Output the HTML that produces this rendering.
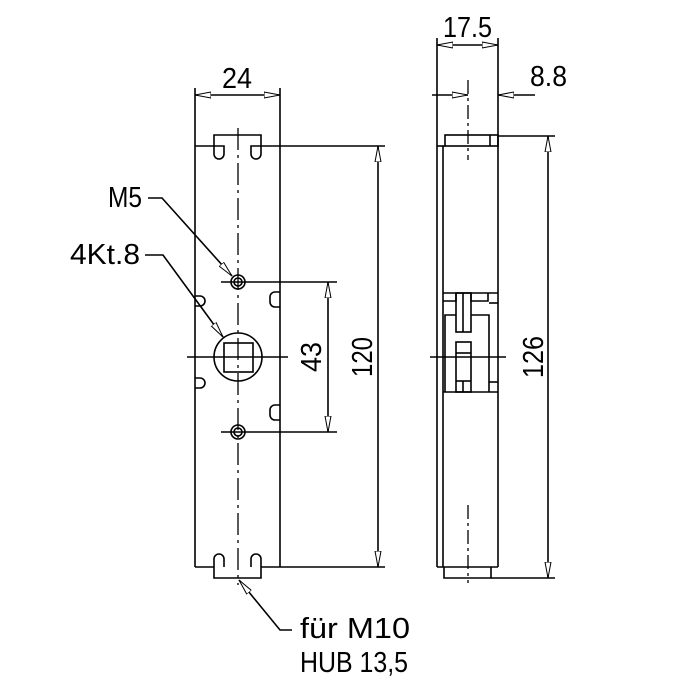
<!DOCTYPE html>
<html><head><style>html,body{margin:0;padding:0;background:#fff}svg{display:block}</style></head><body>
<svg width="700" height="700" viewBox="0 0 700 700" xmlns="http://www.w3.org/2000/svg">
<defs>
<marker id="a" viewBox="0 0 16 8" refX="16" refY="4" markerWidth="16" markerHeight="8" markerUnits="userSpaceOnUse" orient="auto-start-reverse"><path d="M0,1 L16,4 L0,7 Z" fill="#fff" stroke="#000" stroke-width="1"/></marker>
</defs>
<g fill="none" stroke="#000" stroke-width="1.6">
<line x1="195" y1="88" x2="195" y2="567"/>
<line x1="280" y1="88" x2="280" y2="567"/>
<line x1="195" y1="146" x2="214" y2="146"/>
<line x1="261" y1="146" x2="385" y2="146"/>
<line x1="195" y1="567" x2="214" y2="567"/>
<line x1="261" y1="567" x2="385" y2="567"/>
<path d="M214,146 L214,135 L261,135 L261,146"/>
<path d="M214,146 L214,154 A5,5 0 0 0 224,154 L224,146 Z"/>
<path d="M251,146 L251,154 A5,5 0 0 0 261,154 L261,146 Z"/>
<path d="M214,567 L214,578 L261,578 L261,567"/>
<path d="M214,567 L214,559 A5,5 0 0 1 224,559 L224,567"/>
<path d="M251,567 L251,559 A5,5 0 0 1 261,559 L261,567"/>
<line x1="238" y1="128" x2="238" y2="585" stroke-dasharray="22,5,3,5" stroke-width="1.3"/>
<path d="M195,296 L200,296 A5,5 0 0 1 200,306 L195,306"/>
<path d="M195,378 L200,378 A5,5 0 0 1 200,388 L195,388"/>
<path d="M280,292 L275,292 A5,5 0 0 0 270,297 L270,302 A5,5 0 0 0 275,307 L280,307"/>
<path d="M280,405 L275,405 A5,5 0 0 0 270,410 L270,415 A5,5 0 0 0 275,420 L280,420"/>
<circle cx="238" cy="282" r="7"/><circle cx="238" cy="282" r="4"/>
<circle cx="238" cy="432" r="7"/><circle cx="238" cy="432" r="4"/>
<line x1="221" y1="282" x2="337" y2="282"/>
<line x1="221" y1="432" x2="337" y2="432"/>
<circle cx="238" cy="357" r="24"/>
<rect x="224" y="343" width="29" height="29"/>
<line x1="187" y1="357" x2="288" y2="357"/>
<line x1="328" y1="282" x2="328" y2="432" marker-start="url(#a)" marker-end="url(#a)"/>
<line x1="378" y1="146" x2="378" y2="567" marker-start="url(#a)" marker-end="url(#a)"/>
<line x1="195" y1="95" x2="280" y2="95" marker-start="url(#a)" marker-end="url(#a)"/>
<path d="M148,198 L162,198 L232,276" marker-end="url(#a)"/>
<path d="M145,255 L163,255 L223,337" marker-end="url(#a)"/>
<path d="M292,630 L280,630 L239,580" marker-end="url(#a)"/>
<line x1="437" y1="38" x2="437" y2="567"/>
<line x1="443" y1="146" x2="443" y2="567"/>
<line x1="498" y1="38" x2="498" y2="567"/>
<rect x="445" y="135" width="53" height="11"/>
<line x1="490" y1="135" x2="490" y2="146"/>
<line x1="437" y1="146" x2="445" y2="146"/>
<line x1="498" y1="136" x2="555" y2="136"/>
<line x1="437" y1="567" x2="498" y2="567"/>
<path d="M444,567 L444,578 L491,578 L491,567"/>
<line x1="491" y1="578" x2="555" y2="578"/>
<line x1="468" y1="80" x2="468" y2="160" stroke-dasharray="14,4,3,4" stroke-width="1.3"/>
<line x1="468" y1="505" x2="468" y2="583" stroke-dasharray="14,4,3,4" stroke-width="1.3"/>
<line x1="443" y1="293" x2="498" y2="293"/>
<path d="M443,301 L456,301 L456,293"/>
<path d="M471,293 L471,301 L488,301 L488,293"/>
<rect x="456" y="293" width="15" height="39"/>
<line x1="463" y1="293" x2="463" y2="332"/>
<path d="M445,392 L445,315 L456,315"/>
<path d="M471,315 L489,315 L489,392"/>
<line x1="489" y1="303" x2="498" y2="303"/>
<line x1="489" y1="382" x2="498" y2="382"/>
<rect x="456" y="342" width="15" height="50"/>
<line x1="456" y1="353" x2="471" y2="353"/>
<line x1="456" y1="381" x2="471" y2="381"/>
<line x1="463" y1="381" x2="463" y2="392"/>
<line x1="443" y1="392" x2="498" y2="392"/>
<line x1="430" y1="357" x2="506" y2="357"/>
<line x1="437" y1="45" x2="498" y2="45" marker-start="url(#a)" marker-end="url(#a)"/>
<line x1="432" y1="95" x2="468" y2="95" marker-end="url(#a)"/>
<line x1="535" y1="95" x2="498" y2="95" marker-end="url(#a)"/>
<line x1="548" y1="136" x2="548" y2="578" marker-start="url(#a)" marker-end="url(#a)"/>
</g>
<g font-family="Liberation Sans, sans-serif" font-size="29" fill="#000" lengthAdjust="spacingAndGlyphs">
<text x="222" y="88" textLength="30" lengthAdjust="spacingAndGlyphs">24</text>
<text x="443" y="37" textLength="49" lengthAdjust="spacingAndGlyphs">17.5</text>
<text x="530" y="86" textLength="37" lengthAdjust="spacingAndGlyphs">8.8</text>
<text x="108" y="207" textLength="34" lengthAdjust="spacingAndGlyphs">M5</text>
<text x="70" y="264" textLength="70" lengthAdjust="spacingAndGlyphs">4Kt.8</text>
<text transform="translate(321 372) rotate(-90)" textLength="30" lengthAdjust="spacingAndGlyphs">43</text>
<text transform="translate(372 377) rotate(-90)" textLength="40" lengthAdjust="spacingAndGlyphs">120</text>
<text transform="translate(543 378) rotate(-90)" textLength="42" lengthAdjust="spacingAndGlyphs">126</text>
<text x="300" y="638" textLength="110" lengthAdjust="spacingAndGlyphs">für M10</text>
<text x="300" y="672" textLength="108" lengthAdjust="spacingAndGlyphs">HUB 13,5</text>
</g>
</svg>
</body></html>
